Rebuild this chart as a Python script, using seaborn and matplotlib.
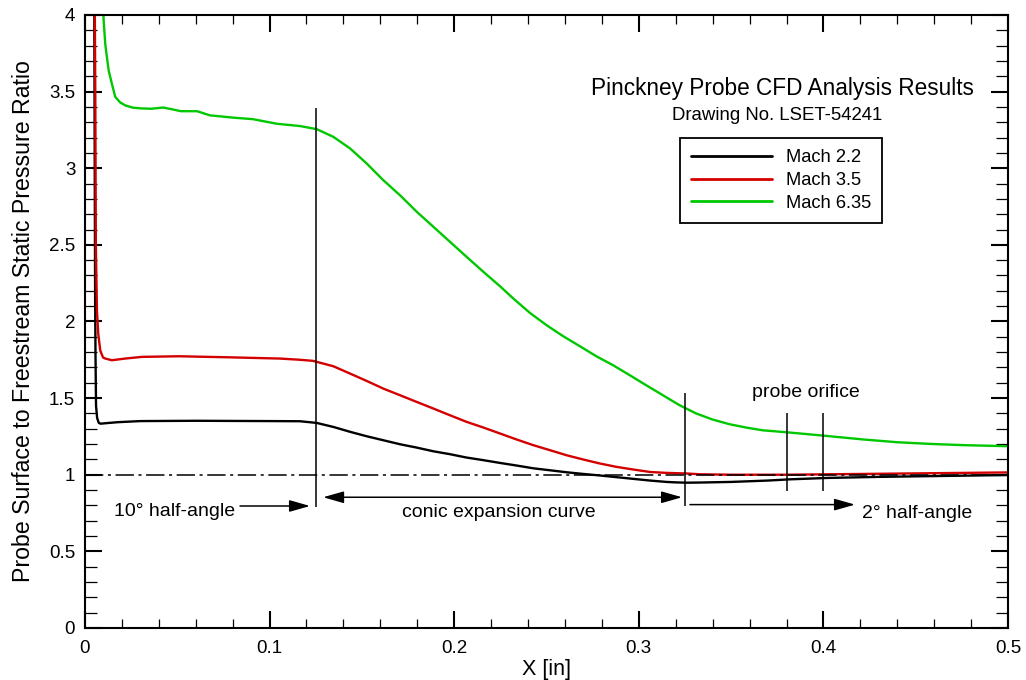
import numpy as np
import pandas as pd
import matplotlib
matplotlib.use("Agg")
import matplotlib.pyplot as plt
from matplotlib.ticker import MultipleLocator, FuncFormatter
import seaborn as sns

# Surface pressure ratio along the probe, one series per free-stream Mach number
mach_labels = ["Mach 2.2", "Mach 3.5", "Mach 6.35"]
line_colors = ["#000000", "#d40000", "#00c800"]

x_m22 = [0.0050, 0.0053, 0.0055, 0.0057, 0.0060, 0.0066, 0.0075, 0.0085, 0.0120, 0.0180,
         0.0300, 0.0600, 0.1000, 0.1165, 0.1255, 0.1345, 0.1436, 0.1526, 0.1616, 0.1706,
         0.1797, 0.1887, 0.1977, 0.2067, 0.2158, 0.2248, 0.2338, 0.2428, 0.2519, 0.2609,
         0.2700, 0.2790, 0.2880, 0.2970, 0.3060, 0.3150, 0.3200, 0.3260, 0.3330, 0.3500,
         0.3700, 0.3820, 0.4020, 0.4300, 0.4650, 0.5000]
p_m22 = [4.30, 3.00, 2.20, 1.80, 1.45, 1.37, 1.338, 1.333, 1.337, 1.343,
         1.350, 1.352, 1.350, 1.349, 1.338, 1.312, 1.280, 1.251, 1.225, 1.199,
         1.177, 1.153, 1.134, 1.112, 1.095, 1.077, 1.060, 1.042, 1.029, 1.016,
         1.005, 0.995, 0.984, 0.973, 0.962, 0.953, 0.950, 0.948, 0.949, 0.953,
         0.962, 0.970, 0.979, 0.986, 0.992, 0.998]

x_m35 = [0.0052, 0.0056, 0.0059, 0.0065, 0.0072, 0.0083, 0.0098, 0.0110, 0.0146, 0.0218,
         0.0309, 0.0510, 0.0785, 0.1056, 0.1165, 0.1235, 0.1345, 0.1436, 0.1526, 0.1616,
         0.1706, 0.1797, 0.1887, 0.1977, 0.2067, 0.2158, 0.2248, 0.2338, 0.2428, 0.2519,
         0.2609, 0.2700, 0.2790, 0.2880, 0.2970, 0.3060, 0.3150, 0.3260, 0.3330, 0.3500,
         0.3800, 0.4200, 0.4600, 0.5000]
p_m35 = [4.30, 3.50, 2.50, 2.07, 1.92, 1.81, 1.765, 1.758, 1.747, 1.758,
         1.769, 1.773, 1.766, 1.758, 1.750, 1.743, 1.708, 1.660, 1.612, 1.562,
         1.519, 1.475, 1.432, 1.388, 1.345, 1.308, 1.269, 1.230, 1.193, 1.160,
         1.127, 1.099, 1.073, 1.051, 1.034, 1.018, 1.012, 1.008, 1.003, 1.000,
         1.000, 1.005, 1.010, 1.015]

x_m635 = [0.0096, 0.0101, 0.0110, 0.0128, 0.0146, 0.0164, 0.0190, 0.0218, 0.0260, 0.0309,
          0.0360, 0.0423, 0.0470, 0.0520, 0.0607, 0.0677, 0.0802, 0.0910, 0.1040, 0.1165,
          0.1255, 0.1345, 0.1436, 0.1526, 0.1616, 0.1706, 0.1797, 0.1887, 0.1977, 0.2067,
          0.2158, 0.2248, 0.2320, 0.2410, 0.2500, 0.2590, 0.2680, 0.2770, 0.2860, 0.2950,
          0.3040, 0.3130, 0.3220, 0.3310, 0.3400, 0.3490, 0.3580, 0.3670, 0.3820, 0.4018,
          0.4216, 0.4400, 0.4580, 0.4760, 0.5000]
p_m635 = [4.20, 3.97, 3.81, 3.64, 3.55, 3.466, 3.43, 3.41, 3.395, 3.39,
          3.388, 3.396, 3.385, 3.372, 3.372, 3.345, 3.33, 3.32, 3.29, 3.275,
          3.255, 3.205, 3.129, 3.031, 2.922, 2.824, 2.716, 2.618, 2.520, 2.422,
          2.324, 2.230, 2.150, 2.056, 1.976, 1.904, 1.839, 1.773, 1.715, 1.650,
          1.584, 1.519, 1.454, 1.400, 1.360, 1.330, 1.308, 1.290, 1.275, 1.253,
          1.230, 1.212, 1.201, 1.193, 1.186]

# Geometry stations along the probe [in]
cone_end = 0.125
expansion_end = 0.325
orifice_edges = [0.38, 0.40]

sns.set_theme(style="ticks")
plt.rcParams["font.family"] = ["Liberation Sans", "DejaVu Sans"]
plt.rcParams.update({
    "axes.linewidth": 1.5,
    "text.color": "black",
    "axes.labelcolor": "black",
    "xtick.color": "black",
    "ytick.color": "black",
    "axes.edgecolor": "black",
    "lines.solid_joinstyle": "round",
})

frames = []
for lab, xs, ps in zip(mach_labels, [x_m22, x_m35, x_m635], [p_m22, p_m35, p_m635]):
    frames.append(pd.DataFrame({"x": xs, "ratio": ps, "series": lab}))
df = pd.concat(frames, ignore_index=True)

fig = plt.figure(figsize=(10.26, 6.8), dpi=100)
ax = fig.add_axes([0.0828, 0.0765, 0.8997, 0.9015])

sns.lineplot(data=df, x="x", y="ratio", hue="series", hue_order=mach_labels,
             palette=dict(zip(mach_labels, line_colors)), sort=False, estimator=None,
             linewidth=1.7, ax=ax)

ax.set_xlim(0, 0.5)
ax.set_ylim(0, 4)

# free-stream reference
ax.axhline(1.0, color="black", lw=1.1, ls=(0, (12, 3, 2, 3)), zorder=3)

# station markers
line_kw = dict(color="black", lw=1.1, zorder=3)
ax.vlines(cone_end, 0.79, 3.39, **line_kw)
ax.vlines(expansion_end, 0.794, 1.534, **line_kw)
ax.vlines(orifice_edges, 0.894, 1.40, **line_kw)

arrow_kw = dict(color="black", lw=1.1, shrinkA=0, shrinkB=0)
ax.annotate("", xy=(0.1219, 0.796), xytext=(0.084, 0.796),
            arrowprops=dict(arrowstyle="-|>,head_length=0.7,head_width=0.2",
                            mutation_scale=18, **arrow_kw))
ax.annotate("", xy=(0.3234, 0.853), xytext=(0.129, 0.853),
            arrowprops=dict(arrowstyle="<|-|>,head_length=0.7,head_width=0.2",
                            mutation_scale=18, **arrow_kw))
ax.annotate("", xy=(0.4171, 0.805), xytext=(0.3277, 0.805),
            arrowprops=dict(arrowstyle="-|>,head_length=0.7,head_width=0.2",
                            mutation_scale=18, **arrow_kw))

note_kw = dict(fontsize=14, ha="center", va="center", color="black")
ax.text(0.0488, 0.757, "10° half-angle", **note_kw)
ax.text(0.2243, 0.755, "conic expansion curve", **note_kw)
ax.text(0.4507, 0.750, "2° half-angle", **note_kw)
ax.text(0.3904, 1.534, "probe orifice", **note_kw)

ax.text(0.378, 3.523, "Pinckney Probe CFD Analysis Results", fontsize=16.3,
        ha="center", va="center")
ax.text(0.375, 3.347, "Drawing No. LSET-54241", fontsize=13.4,
        ha="center", va="center")

handles, labels = ax.get_legend_handles_labels()
leg = ax.legend(handles, labels, loc="upper left", bbox_to_anchor=(0.645, 0.799),
                borderaxespad=0, frameon=True, fancybox=False, edgecolor="black",
                framealpha=1, fontsize=13.2, handlelength=4.4, handletextpad=0.75,
                labelspacing=0.32, borderpad=0.6)
leg.get_frame().set_linewidth(1.3)
for h in leg.legend_handles:
    h.set_linewidth(2.0)

ax.xaxis.set_major_locator(MultipleLocator(0.1))
ax.xaxis.set_minor_locator(MultipleLocator(0.02))
ax.yaxis.set_major_locator(MultipleLocator(0.5))
ax.yaxis.set_minor_locator(MultipleLocator(0.1))
fmt = FuncFormatter(lambda v, pos: f"{v:g}")
ax.xaxis.set_major_formatter(fmt)
ax.yaxis.set_major_formatter(fmt)

ax.tick_params(which="both", direction="in", top=True, right=True, colors="black",
               labelsize=13.5)
ax.tick_params(axis="x", which="major", length=12, width=1.5, pad=9)
ax.tick_params(axis="x", which="minor", length=6.5, width=0.9)
ax.tick_params(axis="y", which="major", length=12.5, width=1.5, pad=7)
ax.tick_params(axis="y", which="minor", length=8.5, width=0.9)

ax.set_xlabel("X [in]", fontsize=15.5, labelpad=1)
ax.set_ylabel("Probe Surface to Freestream Static Pressure Ratio", fontsize=16.7,
              labelpad=10)

fig.savefig("out.png", dpi=100)
